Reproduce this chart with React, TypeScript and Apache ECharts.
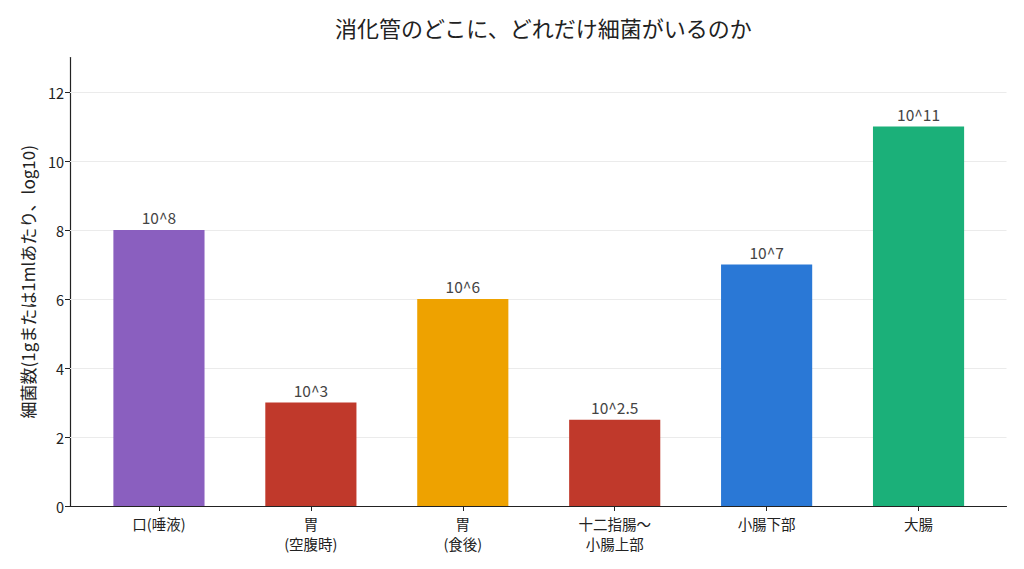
import React, { useEffect, useRef } from "react";
import * as echarts from "echarts";

const categories = ["口(唾液)", "胃\n(空腹時)", "胃\n(食後)", "十二指腸～\n小腸上部", "小腸下部", "大腸"];
const values = [8, 3, 6, 2.5, 7, 11];
const barLabels = ["10^8", "10^3", "10^6", "10^2.5", "10^7", "10^11"];
const barColors = ["#8a5fbf", "#c0392b", "#eea200", "#c0392b", "#2a78d6", "#1bb079"];
const yTicks = [0, 2, 4, 6, 8, 10, 12];
const gridTicks = [2, 4, 6, 8, 10, 12];

const FONT = "Noto Sans CJK JP";

export default function App() {
  const ref = useRef<HTMLDivElement>(null);
  useEffect(() => {
    if (!ref.current) return;
    const chart = echarts.init(ref.current, undefined, { renderer: "svg" });
    chart.setOption({
      animation: false,
      backgroundColor: "#ffffff",
      textStyle: { fontFamily: FONT },
      title: {
        text: "消化管のどこに、どれだけ細菌がいるのか",
        left: 330,
        top: 11,
        textStyle: { fontFamily: FONT, fontSize: 22, fontWeight: "normal", color: "#222222" },
      },
      grid: [
        { left: 70, right: 17.5, top: 57.5, bottom: 63 },
        { left: 83, right: 29.5, top: 57.5, bottom: 63 },
      ],
      xAxis: [
        {
          type: "value",
          gridIndex: 0,
          min: 0,
          max: 1,
          axisLine: { show: true, lineStyle: { color: "#222222", width: 1.2 } },
          axisTick: { show: false },
          axisLabel: { show: false },
          splitLine: { show: false },
        },
        {
          type: "category",
          gridIndex: 1,
          data: categories,
          axisLine: { show: false },
          axisTick: { show: true, alignWithLabel: true, length: 5, lineStyle: { color: "#222222" } },
          axisLabel: {
            interval: 0,
            margin: 7,
            fontFamily: FONT,
            fontSize: 14.5,
            lineHeight: 20,
            color: "#222222",
          },
        },
      ],
      yAxis: [
        {
          type: "value",
          gridIndex: 0,
          min: 0,
          max: 13,
          interval: 1,
          name: "細菌数(1gまたは1mlあたり、log10)",
          nameLocation: "middle",
          nameGap: 34,
          nameRotate: 90,
          nameTextStyle: { fontFamily: FONT, fontSize: 17, color: "#222222" },
          axisLine: { show: true, lineStyle: { color: "#222222", width: 1.2 } },
          axisTick: { show: true, length: 5, lineStyle: { color: "#222222" }, customValues: yTicks },
          axisLabel: {
            fontFamily: FONT,
            fontSize: 14.5,
            color: "#222222",
            margin: 6,
            customValues: yTicks,
          },
          splitLine: { show: false },
        },
        {
          type: "value",
          gridIndex: 1,
          min: 0,
          max: 13,
          show: false,
          splitLine: { show: false },
        },
      ],
      series: [
        {
          type: "line",
          xAxisIndex: 0,
          yAxisIndex: 0,
          data: [],
          z: 1,
          silent: true,
          markLine: {
            silent: true,
            z: 1,
            symbol: "none",
            label: { show: false },
            lineStyle: { color: "#ebebeb", width: 1, type: "solid" },
            data: gridTicks.map((v) => ({ yAxis: v })),
          },
        },
        {
          type: "bar",
          xAxisIndex: 1,
          yAxisIndex: 1,
          z: 6,
          barWidth: "60%",
          data: values.map((v, i) => ({ value: v, itemStyle: { color: barColors[i] } })),
          label: {
            show: true,
            position: "top",
            distance: 5,
            fontFamily: FONT,
            fontSize: 15.5,
            color: "#444444",
            formatter: (p: any) => barLabels[p.dataIndex],
          },
        },
      ],
    });
    return () => chart.dispose();
  }, []);
  return (
    <div
      ref={ref}
      style={{ position: "fixed", left: 0, top: 0, width: 1024, height: 569 }}
    />
  );
}
